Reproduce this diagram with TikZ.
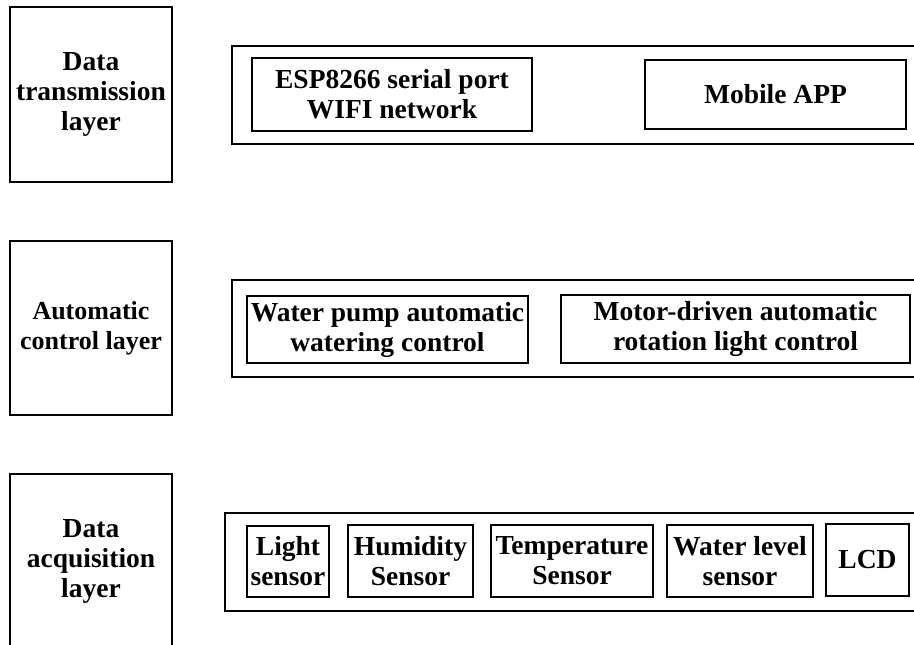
\documentclass[tikz,border=0pt]{standalone}
\usepackage{fontspec}
\setmainfont{Liberation Serif}
\tikzset{
  box/.style={draw, line width=1.4pt, align=center, inner sep=0pt, outer sep=0pt,
    anchor=north west, font=\bfseries\fontsize{27.5}{30}\selectfont},
  smallbox/.style={box, font=\bfseries\fontsize{26}{30}\selectfont},
}
\begin{document}
\begin{tikzpicture}[x=1pt,y=-1pt]
\clip (0,0) rectangle (914,645);
\fill[white] (0,0) rectangle (914,645);
% layer labels
\node[box, minimum width=162pt, minimum height=175pt] (L1) at (10,7) {Data\\transmission\\layer};
\node[smallbox, minimum width=162pt, minimum height=174pt] (L2) at (10,241) {Automatic\\control layer};
\node[box, minimum width=162pt, minimum height=174pt] (L3) at (10,474) {Data\\acquisition\\layer};
% outer frames
\node[box, minimum width=700pt, minimum height=98pt] (O1) at (232,46) {};
\node[box, minimum width=700pt, minimum height=97pt] (O2) at (232,280) {};
\node[box, minimum width=710pt, minimum height=98pt] (O3) at (225,513) {};
% transmission layer
\node[box, minimum width=280pt, minimum height=73pt] (esp) at (252,58) {ESP8266 serial port\\WIFI network};
\node[box, minimum width=261pt, minimum height=69pt] (app) at (645,60) {Mobile APP};
% control layer
\node[box, minimum width=281pt, minimum height=67pt] (pump) at (247,296) {Water pump automatic\\watering control};
\node[box, minimum width=349pt, minimum height=68pt] (motor) at (561,295) {Motor-driven automatic\\rotation light control};
% acquisition layer
\node[box, minimum width=82pt, minimum height=71pt] (light) at (247,526) {Light\\sensor};
\node[box, minimum width=125pt, minimum height=72pt] (hum) at (348,525) {Humidity\\Sensor};
\node[box, minimum width=162pt, minimum height=72pt] (temp) at (491,525) {Temperature\\Sensor};
\node[box, minimum width=146pt, minimum height=72pt] (wl) at (667,525) {Water level\\sensor};
\node[box, minimum width=83pt, minimum height=72pt] (lcd) at (826,524) {LCD};
\end{tikzpicture}
\end{document}
